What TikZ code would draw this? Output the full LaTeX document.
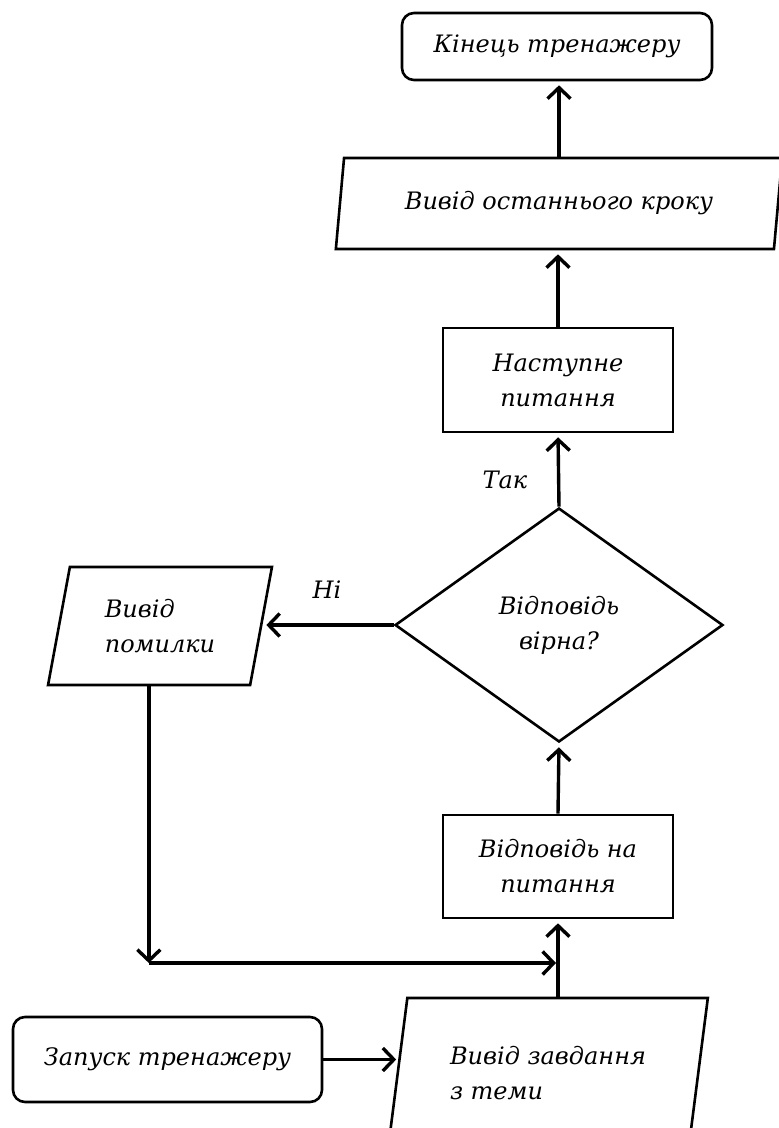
\documentclass[tikz,border=0pt]{standalone}
\usepackage{fontspec}
\setmainfont{DejaVu Serif}
\usetikzlibrary{arrows.meta,shapes.geometric,calc}
\begin{document}
\begin{tikzpicture}[x=1pt,y=-1pt,
  txt/.style={font=\fontsize{24}{35}\selectfont\itshape},
  base/.style={txt, draw, line width=2.6pt, inner sep=0pt},
  term/.style={base, rectangle, rounded corners=12pt, minimum width=310pt, minimum height=67pt},
  proc/.style={base, rectangle, minimum width=230pt, minimum height=104pt, align=center},
  io/.style={base, trapezium, trapezium left angle=76, trapezium right angle=104, trapezium stretches=true},
  dec/.style={base, diamond, minimum width=328pt, minimum height=234pt, align=center},
  arr/.style={line width=3.4pt, -{Straight Barb[length=11pt,width=23pt]}, shorten >=4pt},
  lbl/.style={txt, inner sep=0pt}
]
\useasboundingbox (0,0) rectangle (779,1128);
\clip (0,0) rectangle (779,1128);

\node[term] (end) at (557,46.5) {Кінець тренажеру};
\node[io, minimum width=448pt, minimum height=91pt] (last) at (559,203.5) {Вивід останнього кроку};
\node[proc] (next) at (558,380) {Наступне\\питання};
\node[dec] (dec) at (559,625) {Відповідь\\вірна?};
\node[io, minimum width=224pt, minimum height=118pt, align=left] (err) at (160,626) {Вивід\\помилки};
\node[proc, minimum height=103pt] (ans) at (558,866.5) {Відповідь на\\питання};
\node[io, minimum width=320pt, minimum height=150pt, align=left] (task) at (548,1073) {Вивід завдання\\з теми};
\node[term, minimum width=309pt, minimum height=85pt] (start) at (167.5,1059.5) {Запуск тренажеру};

\node[lbl] (yes) at (505,480) {Так};
\node[lbl] (no) at (327,590) {Ні};

\coordinate (jy) at (0,963);
\coordinate (corner) at (err.bottom side |- jy);
\coordinate (tin) at ($(task.top left corner)!0.413!(task.bottom left corner)$);

\draw[arr] (last.north) -- (last.north |- end.south);
\draw[arr] (next.north) -- (next.north |- last.south);
\draw[arr] (dec.north) -- (next.south);
\draw[arr] (dec.west) -- (dec.west -| err.right side);
\draw[arr] (ans.north) -- (dec.south);
\draw[arr] (task.north -| ans.south) -- (ans.south);
\draw[arr, shorten >=0pt] (err.bottom side) -- (corner);
\draw[arr, shorten >=2pt] (corner) -- (corner -| ans.south);
\draw[arr, shorten >=2pt] (start.east) -- (start.east -| tin);
\end{tikzpicture}
\end{document}
